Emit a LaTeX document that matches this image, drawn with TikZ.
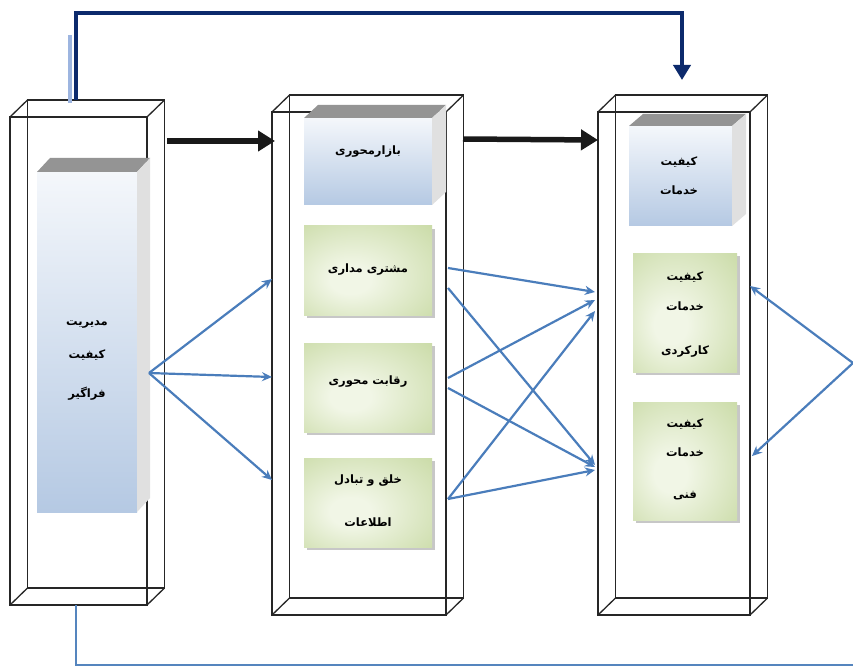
\documentclass[tikz,border=0pt]{standalone}
\usepackage{fontspec}
\usetikzlibrary{arrows.meta,calc}
\newfontfamily\fa[Script=Arabic]{DejaVu Sans}
\TeXXeTstate=1
\newcommand{\pers}[1]{{\fa\bfseries\beginR #1\endR}}
\definecolor{gOut}{HTML}{B3CB82}
\definecolor{gIn}{HTML}{F1F6E6}
\definecolor{navy}{HTML}{0C2A6C}
\definecolor{arrblue}{HTML}{4A7DBB}
\definecolor{lineblue}{HTML}{5585BE}
\definecolor{lightseg}{HTML}{9DB5E0}
\definecolor{panelbot}{HTML}{B5C9E3}
\definecolor{panelTop}{HTML}{F4F7FB}
\pgfdeclareradialshading{greenbox}{\pgfpoint{-8bp}{-6bp}}{color(0bp)=(gIn); color(8bp)=(gIn); color(58bp)=(gOut)}
\tikzset{
  wire/.style={draw=black!85, line width=1.3pt, inner sep=0pt, outer sep=0pt},
  panel/.style={inner sep=0pt, outer sep=0pt, top color=panelTop, bottom color=panelbot},
  bevtop/.style={fill=black!42},
  bevside/.style={fill=black!12},
  gbox/.style={inner sep=0pt, outer sep=0pt, shading=greenbox},
  gshadow/.style={fill=black!22},
  txt/.style={inner sep=0pt, font=\fontsize{11.5}{13}\selectfont},
  barrow/.style={draw=arrblue, line width=2.2pt, -{Stealth[length=10pt,width=9pt]}},
  karrow/.style={draw=black!90, line width=5.5pt, -{Triangle[length=17pt,width=20pt]}},
}
\begin{document}
\begin{tikzpicture}[x=1pt,y=-1pt]
\useasboundingbox[fill=white] (0,0) rectangle (853,668);

% ---------- wireframe boxes ----------
\foreach \n/\cx/\cy/\w/\h in {A/78.5/361/137/488, B/359/363.5/174/503, C/674/363.5/152/503}{
  \node[wire, minimum width=\w pt, minimum height=\h pt] (b\n) at (\cx,\cy) {};
  \node[wire, minimum width=\w pt, minimum height=\h pt] (k\n) at ($(b\n.center)+(17.5,-17)$) {};
  \draw[wire] (b\n.north west) -- (k\n.north west)
              (b\n.north east) -- (k\n.north east)
              (b\n.south west) -- (k\n.south west)
              (b\n.south east) -- (k\n.south east);
}

% ---------- blue panels with bevel ----------
\node[panel, minimum width=100pt, minimum height=340pt] (pA) at (87,342) {};
\fill[bevtop] (pA.north west) -- ++(13,-14) -- ($(pA.north east)+(13,-14)$) -- (pA.north east) -- cycle;
\fill[bevside] (pA.north east) -- ++(13,-14) -- ($(pA.south east)+(13,-14)$) -- (pA.south east) -- cycle;

\node[panel, minimum width=128pt, minimum height=87pt] (pB) at (368,161.5) {};
\fill[bevtop] (pB.north west) -- ++(14,-13) -- ($(pB.north east)+(14,-13)$) -- (pB.north east) -- cycle;
\fill[bevside] (pB.north east) -- ++(14,-13) -- ($(pB.south east)+(14,-13)$) -- (pB.south east) -- cycle;

\node[panel, minimum width=103pt, minimum height=100pt] (pC) at (680.5,176) {};
\fill[bevtop] (pC.north west) -- ++(14,-12) -- ($(pC.north east)+(14,-12)$) -- (pC.north east) -- cycle;
\fill[bevside] (pC.north east) -- ++(14,-12) -- ($(pC.south east)+(14,-12)$) -- (pC.south east) -- cycle;

% ---------- green boxes ----------
\foreach \n/\cx/\cy/\w/\h in {g1/368/270.5/128/89, g2/368/387.5/128/89, g3/368/502.5/128/89, g4/685/312.5/104/119, g5/685/461/104/118}{
  \fill[gshadow] ($(\cx,\cy)+(-0.5*\w+3,-0.5*\h+3)$) rectangle ($(\cx,\cy)+(0.5*\w+3,0.5*\h+3)$);
  \node[gbox, minimum width=\w pt, minimum height=\h pt] (\n) at (\cx,\cy) {};
}

% ---------- texts ----------
\node[txt] (tA1) at (87,325) {\pers{مدیریت}};
\node[txt] (tA2) at (87,355) {\pers{کیفیت}};
\node[txt] (tA3) at (87,394) {\pers{فراگیر}};
\node[txt] (tB) at (368,152) {\pers{بازارمحوری}};
\node[txt] (t1) at (368,270) {\pers{مشتری مداری}};
\node[txt] (t2) at (368,382) {\pers{رقابت محوری}};
\node[txt] (t3a) at (368,481) {\pers{خلق و تبادل}};
\node[txt] (t3b) at (368,522) {\pers{اطلاعات}};
\node[txt] (tC1) at (679,162) {\pers{کیفیت}};
\node[txt] (tC2) at (679,190) {\pers{خدمات}};
\node[txt] (t4a) at (685,277) {\pers{کیفیت}};
\node[txt] (t4b) at (685,306) {\pers{خدمات}};
\node[txt] (t4c) at (685,352) {\pers{کارکردی}};
\node[txt] (t5a) at (685,424) {\pers{کیفیت}};
\node[txt] (t5b) at (685,452) {\pers{خدمات}};
\node[txt] (t5c) at (685,496) {\pers{فنی}};

% ---------- coordinates ----------
\coordinate (topS) at (76,100);
\coordinate (topT) at (682,80);
\coordinate (botS) at (76,605);
\coordinate (botE) at (853,665);
\coordinate (k1s) at (167,141);
\coordinate (k1e) at (275,141);
\coordinate (k2s) at (463,139);
\coordinate (k2e) at (598,140);
\coordinate (oA) at (149,373);
\coordinate (m1) at (272,279);
\coordinate (m2) at (272,377);
\coordinate (m3) at (272,480);
\coordinate (s1) at (448,268);
\coordinate (s2) at (448,288);
\coordinate (s3) at (448,378);
\coordinate (s4) at (448,388);
\coordinate (s5) at (448,499);
\coordinate (e1) at (595,292);
\coordinate (e2) at (595,300);
\coordinate (e3) at (595,311);
\coordinate (e4) at (595,465);
\coordinate (e5) at (595,467);
\coordinate (e6) at (595,470);
\coordinate (r0) at (853,363);
\coordinate (r1) at (750,286);
\coordinate (r2) at (752,456);
\coordinate (lbA) at (70,35);
\coordinate (lbB) at (70,103);

% ---------- connectors ----------
\draw[draw=lightseg, line width=3.5pt] (lbA) -- (lbB);
\draw[navy, line width=4.5pt, line join=miter, -{Triangle[length=15pt,width=17pt]}] (topS) |- ($(topT)+(0,-67)$) -- (topT);
\draw[lineblue, line width=1.5pt] (botS) |- (botE);
\draw[karrow] (k1s) -- (k1e);
\draw[karrow] (k2s) -- (k2e);
\foreach \e in {m1,m2,m3} \draw[barrow] (oA) -- (\e);
\draw[barrow] (s1) -- (e1);
\draw[barrow] (s2) -- (e4);
\draw[barrow] (s3) -- (e2);
\draw[barrow] (s4) -- (e5);
\draw[barrow] (s5) -- (e3);
\draw[barrow] (s5) -- (e6);
\draw[barrow] (r0) -- (r1);
\draw[barrow] (r0) -- (r2);
\end{tikzpicture}
\end{document}
